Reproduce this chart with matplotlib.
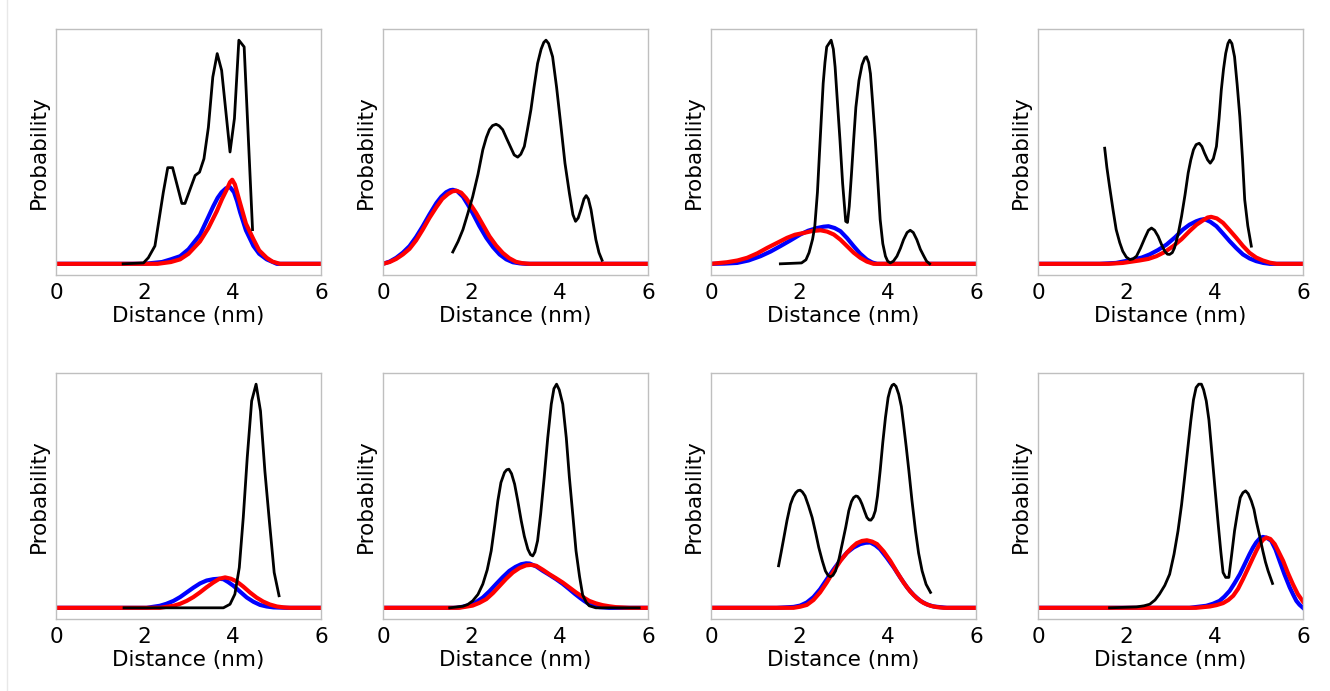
import matplotlib
matplotlib.use("Agg")
import matplotlib.pyplot as plt
from matplotlib.lines import Line2D

black_x = [
    [1.52, 1.98, 2.09, 2.24, 2.43, 2.53, 2.64, 2.85, 2.92, 3.03, 3.15, 3.25, 3.35, 3.45, 3.55,
     3.65, 3.75, 3.94, 4.04, 4.14, 4.26, 4.45],
    [1.58, 1.70, 1.81, 1.92, 2.03, 2.15, 2.26, 2.34, 2.41, 2.48, 2.56, 2.63, 2.71, 2.80, 2.90,
     2.97, 3.05, 3.12, 3.20, 3.27, 3.35, 3.42, 3.50, 3.58, 3.64, 3.69, 3.75, 3.84, 3.93, 4.03,
     4.12, 4.22, 4.30, 4.36, 4.42, 4.48, 4.55, 4.60, 4.65, 4.71, 4.76, 4.82, 4.89, 4.96],
    [1.57, 2.05, 2.15, 2.22, 2.30, 2.35, 2.41, 2.46, 2.50, 2.54, 2.58, 2.62, 2.67, 2.72, 2.77,
     2.81, 2.86, 2.92, 2.98, 3.05, 3.09, 3.13, 3.18, 3.23, 3.28, 3.35, 3.42, 3.48, 3.52, 3.57,
     3.61, 3.66, 3.72, 3.78, 3.83, 3.89, 3.95, 4.00, 4.06, 4.13, 4.21, 4.29, 4.36, 4.44, 4.51,
     4.58, 4.66, 4.74, 4.82, 4.88, 4.95],
    [1.51, 1.56, 1.62, 1.70, 1.77, 1.85, 1.92, 2.00, 2.08, 2.15, 2.23, 2.32, 2.42, 2.50, 2.57,
     2.64, 2.72, 2.80, 2.87, 2.93, 2.98, 3.04, 3.09, 3.17, 3.25, 3.33, 3.40, 3.46, 3.52, 3.58,
     3.65, 3.71, 3.77, 3.84, 3.90, 3.97, 4.04, 4.10, 4.15, 4.20, 4.25, 4.30, 4.34, 4.39, 4.45,
     4.51, 4.57, 4.63, 4.68, 4.75, 4.83],
    [1.54, 3.79, 3.94, 4.05, 4.15, 4.24, 4.33, 4.43, 4.53, 4.63, 4.73, 4.83, 4.94, 5.05],
    [1.51, 1.81, 1.92, 2.03, 2.15, 2.26, 2.36, 2.45, 2.53, 2.60, 2.67, 2.75, 2.80, 2.85, 2.91,
     2.98, 3.05, 3.13, 3.20, 3.28, 3.34, 3.39, 3.44, 3.50, 3.57, 3.65, 3.73, 3.81, 3.87, 3.93,
     3.99, 4.07, 4.15, 4.22, 4.30, 4.37, 4.45, 4.52, 4.60, 4.67, 4.82, 5.80],
    [1.53, 1.59, 1.65, 1.72, 1.80, 1.86, 1.92, 1.97, 2.02, 2.07, 2.13, 2.21, 2.29, 2.37, 2.44,
     2.52, 2.59, 2.65, 2.70, 2.76, 2.82, 2.90, 2.97, 3.05, 3.12, 3.18, 3.23, 3.28, 3.32, 3.37,
     3.42, 3.48, 3.53, 3.58, 3.62, 3.67, 3.72, 3.77, 3.83, 3.89, 3.95, 4.01, 4.06, 4.10, 4.14,
     4.19, 4.25, 4.31, 4.36, 4.42, 4.48, 4.55, 4.63, 4.70, 4.78, 4.87, 4.97],
    [1.62, 2.23, 2.40, 2.53, 2.65, 2.75, 2.87, 2.98, 3.08, 3.17, 3.25, 3.32, 3.39, 3.46, 3.52,
     3.58, 3.64, 3.70, 3.75, 3.81, 3.87, 3.92, 4.00, 4.08, 4.14, 4.19, 4.25, 4.32, 4.38, 4.45,
     4.52, 4.58, 4.64, 4.70, 4.76, 4.83, 4.89, 4.94, 5.02, 5.09, 5.15, 5.21, 5.31],
]
black_y = [
    [0.0, 0.004, 0.027, 0.08, 0.32, 0.43, 0.43, 0.27, 0.27, 0.33, 0.395, 0.41, 0.47, 0.61, 0.835,
     0.94, 0.865, 0.50, 0.65, 1.0, 0.97, 0.153],
    [0.053, 0.10, 0.153, 0.225, 0.30, 0.40, 0.51, 0.565, 0.60, 0.618, 0.624, 0.617, 0.60, 0.56, 0.517,
     0.487, 0.477, 0.49, 0.525, 0.60, 0.69, 0.79, 0.896, 0.96, 0.99, 1.0, 0.985, 0.926, 0.79, 0.614,
     0.45, 0.316, 0.22, 0.19, 0.205, 0.242, 0.29, 0.305, 0.29, 0.242, 0.18, 0.108, 0.05, 0.016],
    [0.0, 0.004, 0.018, 0.05, 0.11, 0.168, 0.32, 0.51, 0.66, 0.807, 0.90, 0.97, 0.985, 1.0, 0.96,
     0.88, 0.73, 0.554, 0.36, 0.19, 0.185, 0.257, 0.40, 0.554, 0.70, 0.82, 0.89, 0.92, 0.926, 0.90,
     0.85, 0.72, 0.554, 0.36, 0.198, 0.09, 0.034, 0.012, 0.004, 0.012, 0.034, 0.07, 0.108, 0.14, 0.15,
     0.14, 0.108, 0.065, 0.034, 0.012, 0.0],
    [0.517, 0.43, 0.346, 0.24, 0.153, 0.095, 0.056, 0.03, 0.019, 0.022, 0.034, 0.07, 0.116, 0.15, 0.16,
     0.15, 0.123, 0.085, 0.056, 0.043, 0.042, 0.05, 0.071, 0.13, 0.212, 0.31, 0.406, 0.465, 0.51, 0.533,
     0.539, 0.525, 0.495, 0.465, 0.45, 0.47, 0.525, 0.65, 0.777, 0.87, 0.941, 0.985, 1.0, 0.985, 0.926,
     0.80, 0.658, 0.47, 0.287, 0.17, 0.079],
    [0.0, 0.0, 0.016, 0.061, 0.18, 0.404, 0.672, 0.925, 1.0, 0.88, 0.61, 0.39, 0.158, 0.054],
    [0.0, 0.007, 0.015, 0.031, 0.06, 0.106, 0.17, 0.255, 0.37, 0.478, 0.56, 0.605, 0.617, 0.62, 0.60,
     0.553, 0.48, 0.389, 0.32, 0.262, 0.238, 0.232, 0.25, 0.30, 0.42, 0.583, 0.76, 0.911, 0.98, 1.0,
     0.975, 0.911, 0.76, 0.583, 0.41, 0.255, 0.14, 0.058, 0.025, 0.009, 0.0, 0.0],
    [0.188, 0.25, 0.314, 0.39, 0.463, 0.495, 0.515, 0.524, 0.526, 0.518, 0.50, 0.455, 0.404, 0.335, 0.27,
     0.21, 0.165, 0.145, 0.139, 0.145, 0.165, 0.22, 0.285, 0.36, 0.434, 0.475, 0.493, 0.50, 0.498, 0.485,
     0.463, 0.43, 0.404, 0.393, 0.392, 0.405, 0.434, 0.50, 0.613, 0.74, 0.851, 0.94, 0.978, 0.995, 1.0,
     0.99, 0.955, 0.90, 0.821, 0.72, 0.613, 0.48, 0.344, 0.245, 0.165, 0.105, 0.069],
    [0.0, 0.004, 0.009, 0.016, 0.035, 0.061, 0.10, 0.15, 0.24, 0.344, 0.46, 0.583, 0.71, 0.836, 0.93,
     0.985, 1.0, 1.0, 0.975, 0.925, 0.84, 0.73, 0.55, 0.374, 0.25, 0.158, 0.136, 0.136, 0.23, 0.344,
     0.43, 0.493, 0.515, 0.523, 0.51, 0.478, 0.44, 0.389, 0.32, 0.255, 0.205, 0.165, 0.109],
]

blue_x = [
    [0.0, 2.0, 2.4, 2.6, 2.81, 3.0, 3.26, 3.45, 3.56, 3.66, 3.75, 3.85, 3.94, 4.03, 4.10,
     4.17, 4.30, 4.47, 4.60, 4.77, 5.0, 6.0],
    [0.0, 0.15, 0.30, 0.45, 0.60, 0.75, 0.90, 1.05, 1.21, 1.32, 1.43, 1.52, 1.58, 1.68, 1.81,
     1.92, 2.03, 2.18, 2.34, 2.49, 2.64, 2.79, 2.94, 3.10, 3.24, 6.0],
    [0.0, 0.30, 0.59, 0.85, 1.12, 1.35, 1.57, 1.80, 2.02, 2.20, 2.40, 2.55, 2.66, 2.80, 2.93,
     3.08, 3.23, 3.38, 3.53, 3.65, 3.76, 6.0],
    [0.0, 1.40, 1.77, 2.15, 2.35, 2.53, 2.72, 2.91, 3.10, 3.28, 3.43, 3.58, 3.68, 3.77, 3.90,
     4.04, 4.19, 4.34, 4.49, 4.64, 4.79, 4.94, 5.10, 5.25, 6.0],
    [0.0, 2.05, 2.35, 2.50, 2.66, 2.81, 2.96, 3.11, 3.26, 3.41, 3.56, 3.68, 3.79, 3.90, 4.02,
     4.17, 4.32, 4.47, 4.62, 4.77, 4.92, 5.22, 6.0],
    [0.0, 1.66, 1.81, 1.96, 2.11, 2.26, 2.41, 2.56, 2.71, 2.86, 3.00, 3.13, 3.24, 3.32, 3.47,
     3.62, 3.77, 3.92, 4.07, 4.22, 4.34, 4.45, 4.56, 4.67, 4.78, 4.90, 5.12, 6.0],
    [0.0, 1.49, 1.87, 2.02, 2.17, 2.32, 2.47, 2.62, 2.78, 2.93, 3.08, 3.23, 3.38, 3.50, 3.61,
     3.72, 3.83, 3.98, 4.14, 4.29, 4.44, 4.59, 4.74, 4.89, 5.04, 5.34, 6.0],
    [0.0, 3.43, 3.81, 3.96, 4.11, 4.22, 4.34, 4.45, 4.57, 4.68, 4.79, 4.87, 4.94, 5.02, 5.09,
     5.18, 5.28, 5.38, 5.47, 5.58, 5.70, 5.78, 5.85, 5.92, 6.0],
]
blue_y = [
    [0.0, 0.0, 0.008, 0.02, 0.034, 0.065, 0.13, 0.21, 0.257, 0.295, 0.32, 0.338, 0.343, 0.32, 0.28,
     0.23, 0.15, 0.08, 0.045, 0.02, 0.0, 0.0],
    [0.0, 0.01, 0.027, 0.05, 0.079, 0.12, 0.168, 0.22, 0.272, 0.30, 0.32, 0.329, 0.331, 0.325, 0.30,
     0.265, 0.227, 0.17, 0.116, 0.075, 0.042, 0.02, 0.007, 0.002, 0.0, 0.0],
    [0.0, 0.001, 0.004, 0.015, 0.034, 0.055, 0.079, 0.105, 0.131, 0.148, 0.16, 0.166, 0.168, 0.16, 0.146,
     0.115, 0.079, 0.045, 0.019, 0.006, 0.0, 0.0],
    [0.0, 0.0, 0.004, 0.019, 0.028, 0.042, 0.062, 0.086, 0.118, 0.153, 0.175, 0.19, 0.197, 0.20, 0.188,
     0.168, 0.135, 0.101, 0.07, 0.042, 0.024, 0.012, 0.004, 0.0, 0.0],
    [0.0, 0.0, 0.009, 0.018, 0.031, 0.048, 0.069, 0.09, 0.109, 0.122, 0.128, 0.13, 0.128, 0.115, 0.098,
     0.072, 0.046, 0.027, 0.013, 0.006, 0.002, 0.0, 0.0],
    [0.0, 0.0, 0.005, 0.013, 0.026, 0.046, 0.074, 0.106, 0.137, 0.165, 0.183, 0.195, 0.199, 0.198, 0.185,
     0.165, 0.147, 0.128, 0.107, 0.083, 0.063, 0.046, 0.03, 0.016, 0.008, 0.003, 0.0, 0.0],
    [0.0, 0.0, 0.004, 0.01, 0.024, 0.048, 0.083, 0.127, 0.173, 0.213, 0.247, 0.27, 0.285, 0.291, 0.292,
     0.28, 0.262, 0.224, 0.18, 0.134, 0.091, 0.057, 0.031, 0.015, 0.006, 0.0, 0.0],
    [0.0, 0.0, 0.009, 0.018, 0.031, 0.05, 0.076, 0.11, 0.15, 0.195, 0.24, 0.27, 0.292, 0.31, 0.317,
     0.313, 0.30, 0.26, 0.21, 0.15, 0.091, 0.058, 0.031, 0.014, 0.0],
]

red_x = [
    [0.0, 2.3, 2.6, 2.81, 3.0, 3.26, 3.45, 3.64, 3.76, 3.86, 3.94, 3.99, 4.05, 4.17, 4.30,
     4.47, 4.60, 4.77, 4.90, 5.07, 6.0],
    [0.0, 0.15, 0.30, 0.45, 0.60, 0.75, 0.90, 1.05, 1.21, 1.34, 1.47, 1.57, 1.66, 1.77, 1.88,
     2.00, 2.11, 2.26, 2.41, 2.56, 2.71, 2.86, 3.01, 3.15, 3.32, 6.0],
    [0.0, 0.36, 0.60, 0.82, 1.05, 1.27, 1.50, 1.72, 1.90, 2.10, 2.30, 2.48, 2.63, 2.78, 2.93,
     3.08, 3.23, 3.38, 3.53, 3.68, 6.0],
    [0.0, 1.60, 1.92, 2.30, 2.50, 2.68, 2.87, 3.06, 3.25, 3.43, 3.59, 3.74, 3.84, 3.92, 4.05,
     4.19, 4.34, 4.49, 4.64, 4.79, 4.94, 5.09, 5.25, 5.40, 6.0],
    [0.0, 2.35, 2.66, 2.81, 2.96, 3.11, 3.26, 3.41, 3.56, 3.70, 3.83, 3.96, 4.09, 4.24, 4.39,
     4.54, 4.69, 4.84, 5.00, 5.15, 5.30, 6.0],
    [0.0, 1.72, 1.88, 2.03, 2.18, 2.34, 2.49, 2.64, 2.79, 2.94, 3.09, 3.24, 3.35, 3.47, 3.62,
     3.77, 3.92, 4.07, 4.22, 4.37, 4.52, 4.67, 4.82, 4.97, 5.12, 5.27, 5.58, 6.0],
    [0.0, 1.87, 2.02, 2.17, 2.32, 2.47, 2.62, 2.78, 2.93, 3.08, 3.20, 3.30, 3.42, 3.53, 3.65,
     3.76, 3.91, 4.06, 4.21, 4.36, 4.51, 4.66, 4.81, 4.97, 5.12, 5.27, 6.0],
    [0.0, 3.58, 3.89, 4.04, 4.19, 4.31, 4.42, 4.53, 4.64, 4.76, 4.87, 4.95, 5.02, 5.10, 5.17,
     5.26, 5.36, 5.45, 5.55, 5.66, 5.77, 5.88, 6.0],
]
red_y = [
    [0.0, 0.0, 0.008, 0.02, 0.045, 0.10, 0.16, 0.235, 0.29, 0.33, 0.365, 0.376, 0.355, 0.27, 0.18,
     0.11, 0.06, 0.027, 0.01, 0.0, 0.0],
    [0.0, 0.008, 0.022, 0.042, 0.067, 0.105, 0.153, 0.205, 0.254, 0.29, 0.312, 0.324, 0.327, 0.318, 0.294,
     0.26, 0.227, 0.175, 0.123, 0.082, 0.049, 0.025, 0.009, 0.003, 0.0, 0.0],
    [0.0, 0.007, 0.015, 0.027, 0.047, 0.071, 0.094, 0.116, 0.13, 0.138, 0.147, 0.15, 0.144, 0.131, 0.108,
     0.079, 0.05, 0.027, 0.01, 0.0, 0.0],
    [0.0, 0.0, 0.004, 0.015, 0.022, 0.034, 0.053, 0.079, 0.11, 0.146, 0.175, 0.195, 0.207, 0.21, 0.203,
     0.183, 0.15, 0.116, 0.08, 0.049, 0.028, 0.015, 0.005, 0.0, 0.0],
    [0.0, 0.0, 0.009, 0.018, 0.031, 0.048, 0.069, 0.092, 0.113, 0.13, 0.136, 0.13, 0.118, 0.095, 0.069,
     0.046, 0.028, 0.015, 0.006, 0.002, 0.0, 0.0],
    [0.0, 0.0, 0.005, 0.010, 0.022, 0.039, 0.066, 0.098, 0.13, 0.158, 0.178, 0.19, 0.192, 0.188, 0.17,
     0.15, 0.132, 0.113, 0.091, 0.069, 0.049, 0.031, 0.02, 0.012, 0.007, 0.003, 0.0, 0.0],
    [0.0, 0.0, 0.005, 0.013, 0.035, 0.069, 0.113, 0.165, 0.21, 0.247, 0.272, 0.289, 0.299, 0.302, 0.296,
     0.285, 0.252, 0.21, 0.16, 0.113, 0.073, 0.043, 0.022, 0.009, 0.003, 0.0, 0.0],
    [0.0, 0.0, 0.006, 0.012, 0.021, 0.035, 0.054, 0.085, 0.128, 0.178, 0.225, 0.258, 0.285, 0.305, 0.314,
     0.308, 0.285, 0.25, 0.21, 0.155, 0.106, 0.062, 0.028],
]

x_ticks = [0, 2, 4, 6]

FIG_W, FIG_H = 1330, 691
COL_LEFT = [56, 383, 711, 1038]
ROW_TOP = [29, 373]
AX_W, AX_H = 265, 246
FONT_SIZE = 15.5

fig = plt.figure(figsize=(FIG_W / 100, FIG_H / 100), dpi=100)
fig.add_artist(Line2D([7 / FIG_W, 7 / FIG_W], [0, 1], color="#e8e8e8", linewidth=1))

for index in range(8):
    row, col = divmod(index, 4)
    left = COL_LEFT[col] / FIG_W
    bottom = 1 - (ROW_TOP[row] + AX_H) / FIG_H
    axis = fig.add_axes([left, bottom, AX_W / FIG_W, AX_H / FIG_H])

    axis.plot(blue_x[index], blue_y[index], color="blue", linewidth=3.0)
    axis.plot(red_x[index], red_y[index], color="red", linewidth=3.0)
    axis.plot(black_x[index], black_y[index], color="black", linewidth=2.0)

    axis.set_xlim(0, 6)
    axis.set_xticks(x_ticks)
    axis.set_yticks([])
    axis.tick_params(axis="x", length=0, labelsize=FONT_SIZE, pad=6)
    axis.set_xlabel("Distance (nm)", fontsize=FONT_SIZE, labelpad=2)
    axis.set_ylabel("Probability", fontsize=FONT_SIZE, labelpad=5)
    for spine in axis.spines.values():
        spine.set_color("#bfbfbf")
        spine.set_linewidth(1.0)

fig.savefig("out.png", dpi=100)
